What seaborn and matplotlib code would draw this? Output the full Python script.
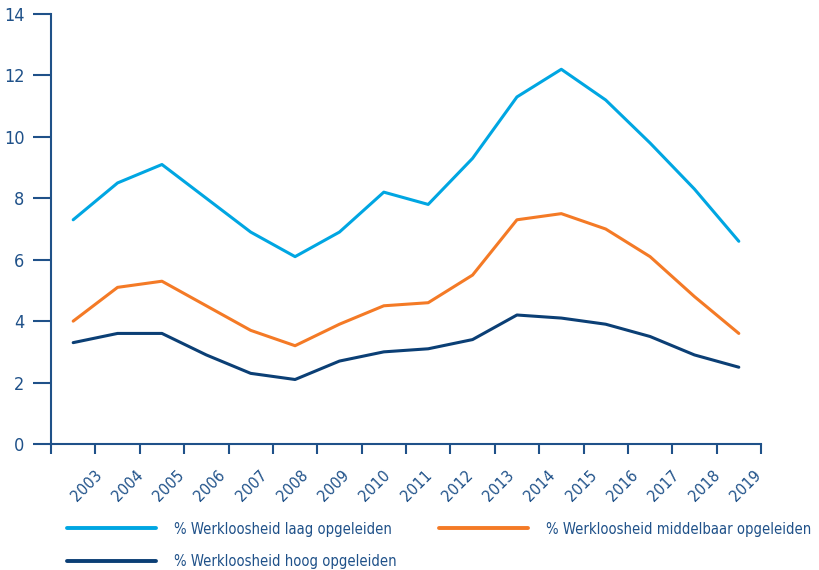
import matplotlib
matplotlib.use("Agg")
import matplotlib.pyplot as plt
import numpy as np
import pandas as pd
import seaborn as sns

# tick labels along the x axis (17 of them, the chart only has 16 points)
years = ['2003', '2004', '2005', '2006', '2007', '2008', '2009', '2010', '2011',
         '2012', '2013', '2014', '2015', '2016', '2017', '2018', '2019']

laag = [7.3, 8.5, 9.1, 8.0, 6.9, 6.1, 6.9, 8.2, 7.8, 9.3, 11.3, 12.2, 11.2, 9.8, 8.3, 6.6]
middelbaar = [4.0, 5.1, 5.3, 4.5, 3.7, 3.2, 3.9, 4.5, 4.6, 5.5, 7.3, 7.5, 7.0, 6.1, 4.8, 3.6]
hoog = [3.3, 3.6, 3.6, 2.9, 2.3, 2.1, 2.7, 3.0, 3.1, 3.4, 4.2, 4.1, 3.9, 3.5, 2.9, 2.5]

series_names = ['% Werkloosheid laag opgeleiden',
                '% Werkloosheid hoog opgeleiden',
                '% Werkloosheid middelbaar opgeleiden']
colors = ['#00a6e2', '#0b3f75', '#f47a26']
axis_color = '#1f5189'

df = pd.concat([
    pd.DataFrame({'idx': range(len(laag)), 'val': laag, 'serie': series_names[0]}),
    pd.DataFrame({'idx': range(len(hoog)), 'val': hoog, 'serie': series_names[1]}),
    pd.DataFrame({'idx': range(len(middelbaar)), 'val': middelbaar, 'serie': series_names[2]}),
])

sns.set_style('white', {'xtick.bottom': True, 'ytick.left': True})
plt.rcParams['font.family'] = ['DejaVu Sans']
plt.rcParams['font.stretch'] = 'condensed'

fig = plt.figure(figsize=(8.19, 5.70), dpi=100)
ax = fig.add_axes([51 / 819, 126 / 570, 710 / 819, 430 / 570])

sns.lineplot(data=df, x='idx', y='val', hue='serie', hue_order=series_names,
             palette=colors, linewidth=2.2, ax=ax, legend=False)

n = len(laag)
ax.set_xlim(-0.5, n - 0.5)
ax.set_ylim(0, 14)
ax.set_yticks(np.arange(0, 15, 2))
ax.set_xticks(np.arange(-0.5, n, 1.0))
ax.set_xticklabels([])
# year labels are spread evenly, slightly off the tick marks like in the original
ax.set_xticks(np.linspace(0.47, n - 0.66, len(years)), minor=True)
ax.set_xticklabels(years, minor=True, rotation=45, ha='right', va='top',
                   rotation_mode='anchor', fontsize=11.5, color=axis_color)
ax.tick_params(axis='x', which='minor', length=0, pad=17)
ax.tick_params(axis='x', which='major', length=7.5, width=1.5, color=axis_color, direction='out')
ax.tick_params(axis='y', length=13, width=1.5, color=axis_color, direction='out',
               labelsize=13, labelcolor=axis_color, pad=6)
ax.set_xlabel('')
ax.set_ylabel('')

for side in ['top', 'right']:
    ax.spines[side].set_visible(False)
for side in ['left', 'bottom']:
    ax.spines[side].set_color(axis_color)
    ax.spines[side].set_linewidth(1.5)

handles = [plt.Line2D([], [], color=c, linewidth=2.8) for c in colors]
leg = fig.legend(handles, series_names, loc='lower left', bbox_to_anchor=(0.066, -0.022),
                 ncol=2, frameon=False, fontsize=10.6, handlelength=6.0,
                 columnspacing=2.9, handletextpad=1.25, labelspacing=1.2)
for t in leg.get_texts():
    t.set_color(axis_color)

fig.savefig('out.png', dpi=100)
